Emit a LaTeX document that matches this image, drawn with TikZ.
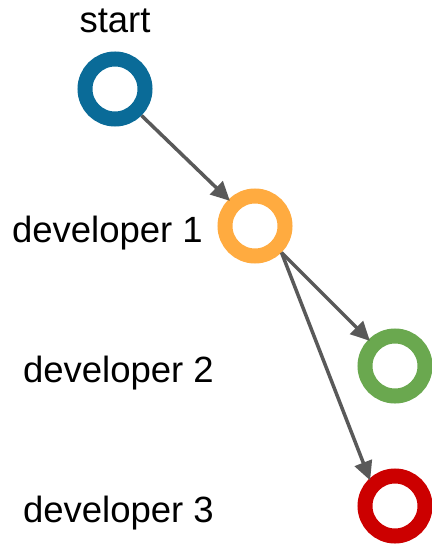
\documentclass[tikz,border=0pt]{standalone}
\usepackage{fontspec}
\setmainfont{Liberation Sans}
\usetikzlibrary{arrows.meta}
\definecolor{devblue}{HTML}{0A6B98}
\definecolor{devorange}{HTML}{FFAB40}
\definecolor{devgreen}{HTML}{6AA84F}
\definecolor{devred}{HTML}{CC0000}
\definecolor{linkgray}{HTML}{595959}
\begin{document}
\begin{tikzpicture}[x=1pt,y=-1pt,
  commit/.style={circle, draw=#1, line width=15pt, minimum size=60pt, inner sep=0pt},
  label/.style={inner sep=0pt, font=\fontsize{36.5}{40}\selectfont},
  link/.style={draw=linkgray, line width=3.5pt,
    -{Triangle[length=19pt,width=18pt]}, shorten >=-2pt}]
\useasboundingbox (0,0) rectangle (431,545);
\node[commit=devblue]   (s)  at (115,89)  {};
\node[commit=devorange] (d1) at (255,226) {};
\node[commit=devgreen]  (d2) at (395,366) {};
\node[commit=devred]    (d3) at (395,506) {};
\node[label, anchor=base]      (ls)  at (115,33)  {start};
\node[label, anchor=base east] (l1)  at (203,242) {developer 1};
\node[label, anchor=base east] (l2)  at (214,382) {developer 2};
\node[label, anchor=base east] (l3)  at (214,522) {developer 3};
\draw[link] (s.-45)  -- (d1.135);
\draw[link] (d1.-45) -- (d2.135);
\draw[link] (d1.-45) -- (d3.133);
\end{tikzpicture}
\end{document}
